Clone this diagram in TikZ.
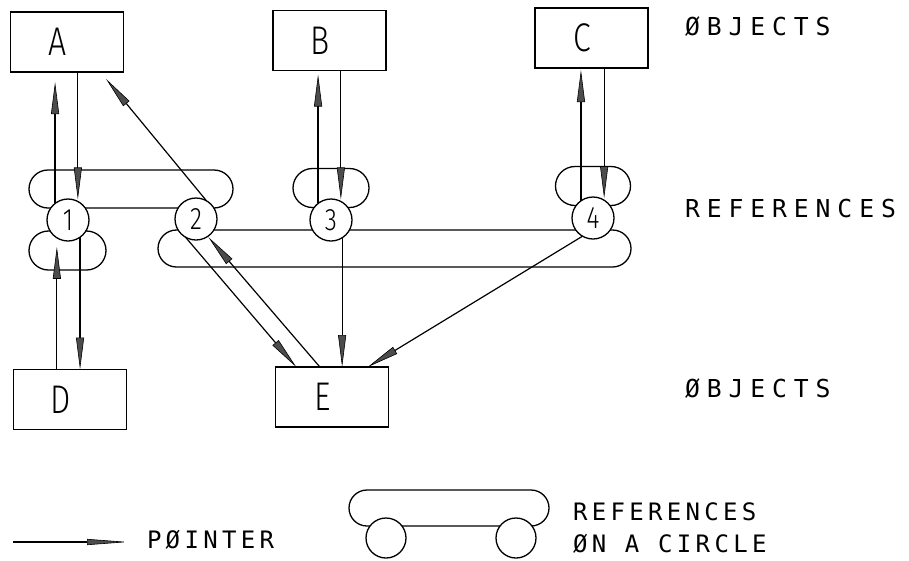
\documentclass[tikz,border=0pt]{standalone}
\usepackage{fontspec}
\usetikzlibrary{arrows.meta,shapes.misc,calc}
\newfontfamily\plotfont[FakeStretch=0.8]{Fira Sans Light}
\newfontfamily\plotwide[LetterSpace=28]{DejaVu Sans Mono}
\newfontfamily\plotmid[LetterSpace=18]{DejaVu Sans Mono}

\begin{document}
\begin{tikzpicture}[x=1pt,y=-1pt,
  every node/.style={inner sep=0pt, outer sep=0pt},
  obj/.style={draw, line width=1.3pt, minimum width=113pt, minimum height=60pt,
    font=\plotfont\fontsize{40}{40}\selectfont},
  refc/.style={circle, draw, line width=1.3pt, fill=white, minimum size=42pt,
    font=\plotfont\fontsize{31}{31}\selectfont},
  ring/.style={rounded rectangle, draw, line width=1.3pt},
  ptr/.style={line width=1.2pt, -{Triangle[length=32pt,width=8pt,fill=black!70,line width=0.6pt]}},
  lbl/.style={anchor=base west, font=\plotwide\fontsize{24.7}{24.7}\selectfont},
  leg/.style={anchor=base west, font=\plotmid\fontsize{24}{24}\selectfont}]

\useasboundingbox (0,0) rectangle (909,560);

% objects
\node[obj] (A) at (67,42)    {A\kern19pt};
\node[obj] (B) at (329.5,40.5) {B\kern19pt};
\node[obj] (C) at (591.5,38) {C\kern19pt};
\node[obj] (D) at (70,399.5) {D\kern19pt};
\node[obj] (E) at (332,397)  {E\kern19pt};

% reference rings (one per object)
\node[ring, minimum width=204pt, minimum height=38pt] (ringA) at (131,189) {};
\node[ring, minimum width=76pt,  minimum height=39pt] (ringB) at (331,188) {};
\node[ring, minimum width=75pt,  minimum height=39pt] (ringC) at (593,186) {};
\node[ring, minimum width=77pt,  minimum height=39pt] (ringD) at (67.5,250.5) {};
\node[ring, minimum width=473pt, minimum height=37pt] (ringE) at (394.5,248.5) {};

% references
\node[refc] (c1) at (68,220)  {1};
\node[refc] (c2) at (196,219) {2};
\node[refc] (c3) at (331,220) {3};
\node[refc] (c4) at (593,218) {4};

% pointers
\draw[ptr, shorten >=10pt] (c1.128) -- (c1.128 |- A.south);
\draw[ptr, shorten >=2pt]  (c1.62 |- A.south) -- (c1.62);
\draw[ptr] (c1.-55) -- (c1.-55 |- D.north);
\draw[ptr, shorten >=9pt]  (c1.-122 |- D.north) -- (c1.-122);
\draw[ptr, shorten >=9pt]  (c2.60) -- (A.-42);
\draw[ptr] (c2.-120) -- (E.140);
\draw[ptr, shorten >=1pt]  (E.112) -- (c2.-56);
\draw[ptr, shorten >=4pt]  (c3.128) -- (c3.128 |- B.south);
\draw[ptr, shorten >=2pt]  (c3.62 |- B.south) -- (c3.62);
\draw[ptr] (c3.-58) -- (c3.-58 |- E.north);
\draw[ptr, shorten >=2pt]  (c4.125) -- (c4.125 |- C.south);
\draw[ptr, shorten >=2pt]  (c4.58 |- C.south) -- (c4.58);
\draw[ptr] (c4.-120) -- (E.40);

% row labels
\node[lbl] (labObjTop) at (685,35)  {ØBJECTS};
\node[lbl] (labRefs)   at (685,217) {REFERENCES};
\node[lbl] (labObjBot) at (685,397) {ØBJECTS};

% legend
\coordinate (lgtail) at (13,542);
\coordinate (lghead) at (128,542);
\draw[line width=1.2pt, -{Triangle[length=41pt,width=6pt,fill=black!70,line width=0.6pt]}] (lgtail) -- (lghead);
\node[leg] (labPointer) at (147,548) {PØINTER};

\node[ring, minimum width=200pt, minimum height=36pt] (lgring) at (449,508) {};
\node[refc, minimum size=40pt] (lg1) at (386,538) {};
\node[refc, minimum size=40pt] (lg2) at (516,538) {};
\node[leg] (labLegRefs)   at (573,520) {REFERENCES};
\node[leg] (labLegCircle) at (573,552) {ØN A CIRCLE};
\end{tikzpicture}
\end{document}
